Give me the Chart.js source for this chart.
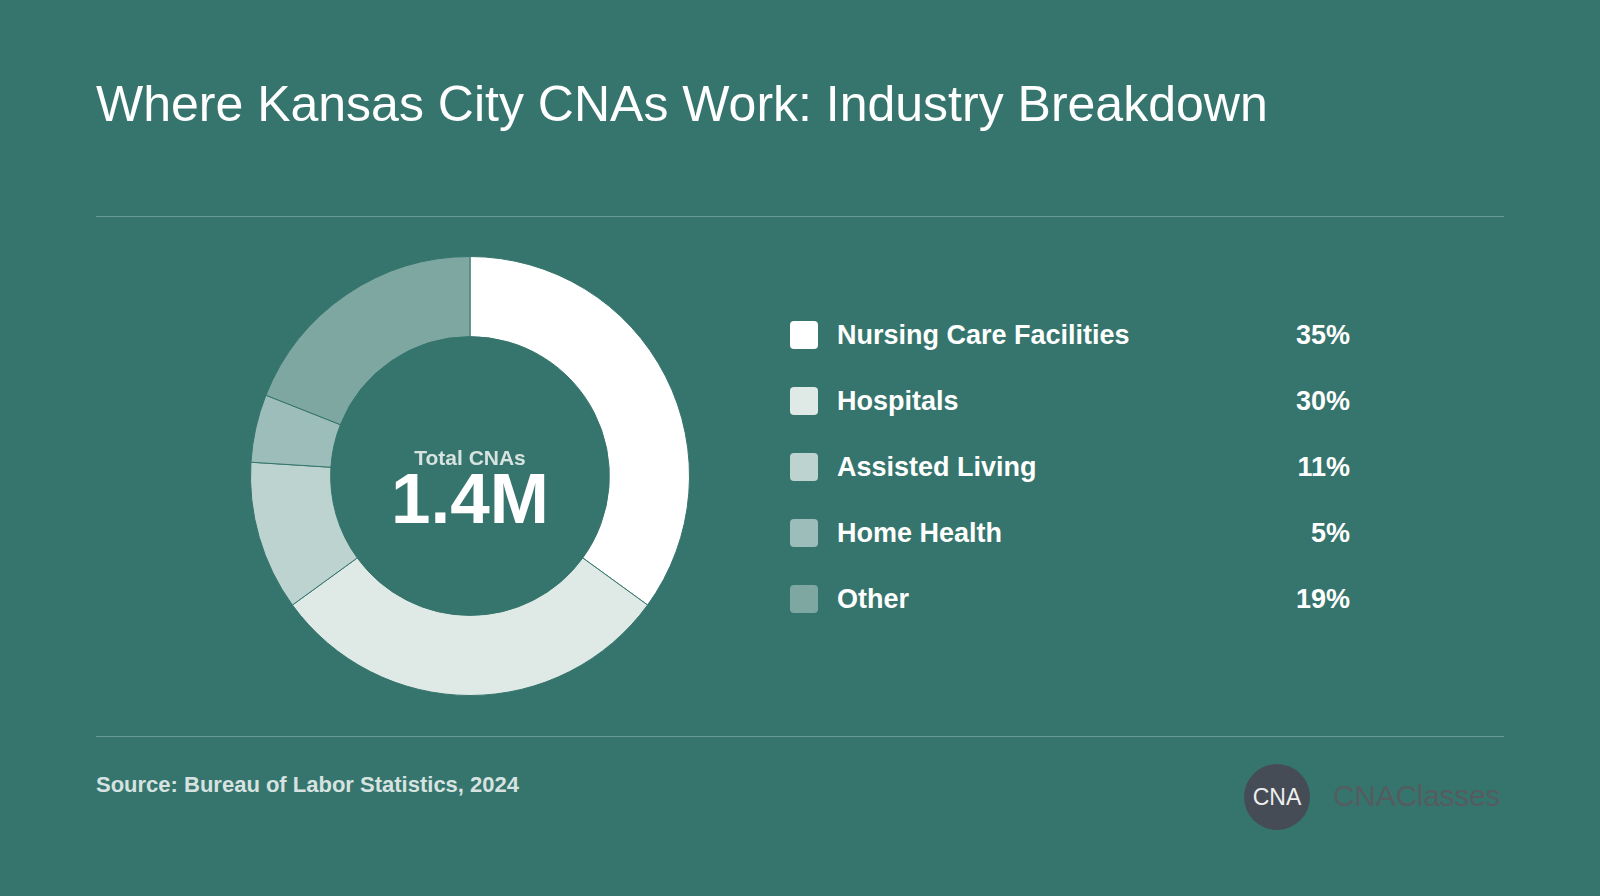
<!DOCTYPE html>
<html>
<head>
<meta charset="utf-8">
<script src="https://cdn.jsdelivr.net/npm/chart.js@4"></script>
<style>
  body { margin: 0; width: 1600px; height: 896px; background: #36756d; font-family: "Liberation Sans", Arial, sans-serif; color: #fff; position: relative; overflow: hidden; }
  h1 { position: absolute; left: 96px; top: 75px; margin: 0; font-weight: 400; font-size: 50px; }
  .rule { position: absolute; left: 96px; width: 1408px; height: 1px; background: #6b9b95; }
  #chartBox { position: absolute; left: 240px; top: 246px; width: 460px; height: 460px; }
  .center { position: absolute; left: 240px; top: 447px; width: 460px; text-align: center; pointer-events: none; }
  .center .lbl { font-size: 21px; font-weight: 700; color: #d6e3e0; line-height: 22px; }
  .center .big { font-size: 71px; font-weight: 700; line-height: 58px; margin-top: 1px; }
  #legend { position: absolute; left: 790px; top: 302px; width: 560px; }
  .row { display: flex; align-items: center; height: 66px; font-size: 27px; font-weight: 700; }
  .sw { width: 28px; height: 28px; border-radius: 4px; margin-right: 19px; }
  .name { flex: 1; }
  .src { position: absolute; left: 96px; top: 772px; font-size: 22px; font-weight: 700; color: #d6e3e0; }
  .logo { position: absolute; left: 1244px; top: 764px; width: 66px; height: 66px; border-radius: 50%; background: #454c55; color: #eee; font-size: 23px; display: flex; align-items: center; justify-content: center; }
  .brand { position: absolute; left: 1333px; top: 779px; font-size: 30px; color: #555c60; letter-spacing: -0.3px; }
</style>
</head>
<body>
<h1>Where Kansas City CNAs Work: Industry Breakdown</h1>
<div class="rule" style="top:216px"></div>
<div class="rule" style="top:736px"></div>
<div id="chartBox"><canvas id="donut"></canvas></div>
<div class="center"><div class="lbl">Total CNAs</div><div class="big">1.4M</div></div>
<div id="legend"></div>
<div class="src">Source: Bureau of Labor Statistics, 2024</div>
<div class="logo">CNA</div>
<div class="brand">CNAClasses</div>
<script>
const categories = ["Nursing Care Facilities", "Hospitals", "Assisted Living", "Home Health", "Other"];
const shares = [35, 30, 11, 5, 19];
const colors = ["#ffffff", "#dfe9e6", "#bdd3d0", "#9dbdba", "#7ea7a2"];

// legend rows
const legend = document.getElementById('legend');
categories.forEach((c, i) => {
  const row = document.createElement('div');
  row.className = 'row';
  row.innerHTML = '<div class="sw" style="background:' + colors[i] + '"></div><div class="name">' + c + '</div><div>' + shares[i] + '%</div>';
  legend.appendChild(row);
});

new Chart(document.getElementById('donut'), {
  type: 'doughnut',
  data: {
    labels: categories,
    datasets: [{
      data: shares,
      backgroundColor: colors,
      borderColor: '#36756d',
      borderWidth: 1
    }]
  },
  options: {
    responsive: true,
    maintainAspectRatio: false,
    animation: false,
    cutout: '63.5%',
    layout: { padding: 10 },
    plugins: { legend: { display: false }, tooltip: { enabled: false } }
  }
});
</script>
</body>
</html>
